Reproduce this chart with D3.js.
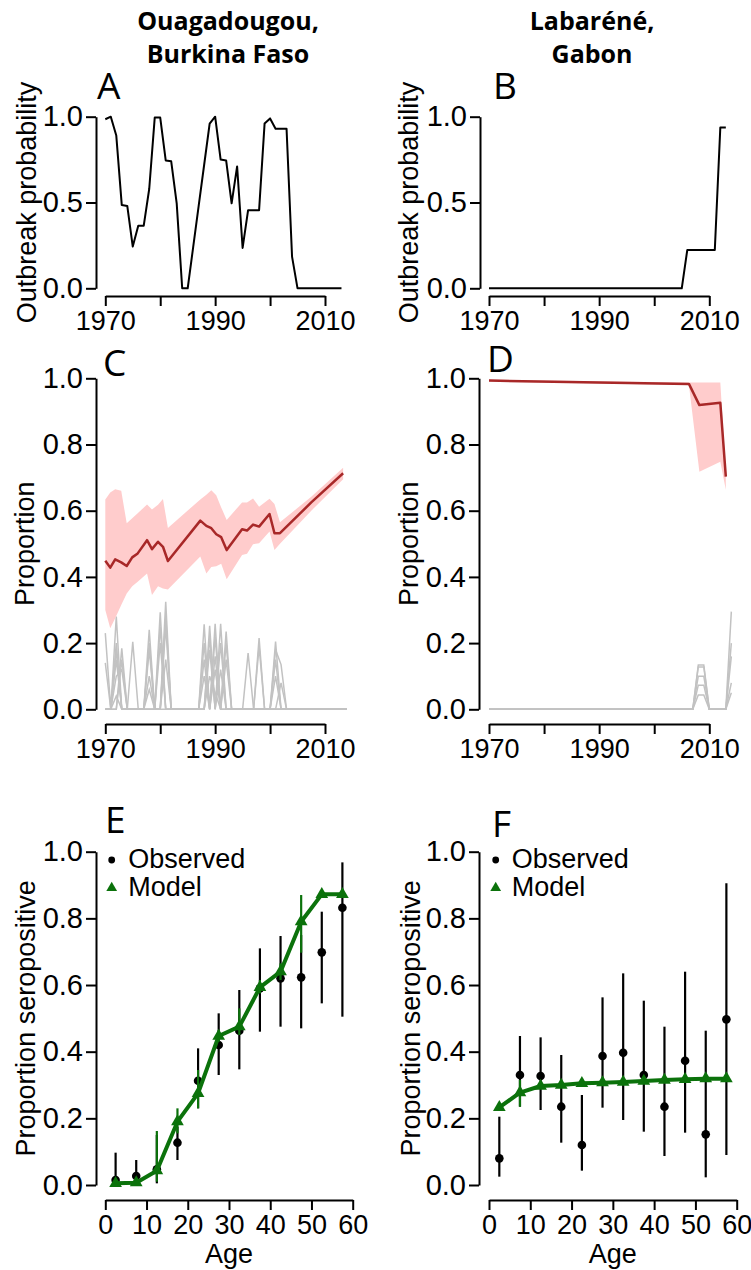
<!DOCTYPE html>
<html>
<head>
<meta charset="utf-8">
<script src="https://cdn.jsdelivr.net/npm/d3@7"></script>
<style>
body { margin: 0; background: #fff; }
text { font-family: "Liberation Sans", Arial, sans-serif; fill: #000; }
.title { font-family: "Open Sans", sans-serif; font-weight: 700; font-size: 25px; }
.letter { font-family: "Open Sans", sans-serif; font-size: 37px; }
</style>
</head>
<body>
<svg id="chart" width="751" height="1270"></svg>
<script>
// ---------- data ----------
const years = d3.range(1970, 2014);      // 1970..2013
const simYears = d3.range(1970, 2015);   // 1970..2014

// A / B : outbreak probability per year
const outbreakOuaga = [0.985, 1.0, 0.89, 0.485, 0.48, 0.243, 0.365, 0.365, 0.58, 0.995,
    0.995, 0.745, 0.74, 0.495, 0.0, 0.0, 0.24, 0.48, 0.72, 0.96,
    1.0, 0.75, 0.745, 0.495, 0.71, 0.235, 0.455, 0.455, 0.455, 0.96,
    0.99, 0.93, 0.93, 0.93, 0.185, 0, 0, 0, 0, 0,
    0, 0, 0, 0];
const outbreakLaba = [0, 0, 0, 0, 0, 0, 0, 0, 0, 0,
    0, 0, 0, 0, 0, 0, 0, 0, 0, 0,
    0, 0, 0, 0, 0, 0, 0, 0, 0, 0,
    0, 0, 0, 0, 0, 0, 0.223, 0.223, 0.223, 0.223,
    0.223, 0.223, 0.937, 0.937];

// C / D : proportion (median and interval)
const propYearsOuaga = [1970, 1970.9, 1971.8, 1972.9, 1973.9, 1974.9, 1975.9, 1977.6, 1978.5, 1979.6,
    1980.5, 1981.4, 1987.3, 1988.4, 1989.3, 1990.2, 1991.1, 1992.1, 1994.9, 1995.8,
    1996.9, 1998.0, 1999.9, 2000.8, 2001.8, 2007.5, 2013.3];
const propMedOuaga = [0.449, 0.428, 0.453, 0.444, 0.433, 0.459, 0.471, 0.511, 0.484, 0.506,
    0.491, 0.448, 0.570, 0.554, 0.547, 0.529, 0.520, 0.481, 0.544, 0.540,
    0.558, 0.552, 0.590, 0.532, 0.532, 0.625, 0.713];
const propHiOuaga = [0.634, 0.655, 0.665, 0.660, 0.562, 0.577, 0.592, 0.619, 0.604, 0.618,
    0.635, 0.548, 0.634, 0.648, 0.662, 0.647, 0.610, 0.572, 0.625, 0.625,
    0.637, 0.612, 0.636, 0.620, 0.565, 0.642, 0.730];
const propLoOuaga = [0.300, 0.245, 0.275, 0.315, 0.350, 0.372, 0.385, 0.410, 0.345, 0.372,
    0.365, 0.362, 0.462, 0.410, 0.430, 0.432, 0.440, 0.393, 0.466, 0.470,
    0.499, 0.502, 0.537, 0.481, 0.500, 0.600, 0.695];

const propYearsLaba = [1970, 2006.3, 2008.2, 2012.0, 2013.0];
const propMedLaba = [0.993, 0.983, 0.919, 0.926, 0.703];
const propHiLaba = [0.996, 0.987, 0.987, 0.987, 0.715];
const propLoLaba = [0.990, 0.980, 0.718, 0.748, 0.663];

// grey simulation runs (non-zero years only)
const simOuaga1 = {1970: 0.23, 1972: 0.28, 1978: 0.24, 1981: 0.325, 1988: 0.257, 1990: 0.258, 1992: 0.235, 1998: 0.215, 2001: 0.205};
const simOuaga2 = {1970: 0.14, 1973: 0.184, 1980: 0.293, 1989: 0.252, 1991: 0.258, 2001: 0.18, 2002: 0.135};
const simOuaga3 = {1972: 0.2, 1975: 0.204, 1978: 0.18, 1981: 0.25, 1988: 0.15, 1990: 0.16, 1996: 0.17, 2001: 0.1};
const simOuaga4 = {1972: 0.1, 1973: 0.12, 1978: 0.1, 1980: 0.2, 1989: 0.18, 1991: 0.2, 1998: 0.19, 2002: 0.08};
const simOuaga5 = {1972: 0.04, 1978: 0.06, 1981: 0.15, 1989: 0.1, 1990: 0.05, 1992: 0.15};
const simOuaga6 = {1972: 0.15, 1981: 0.28, 1989: 0.22, 1991: 0.12, 2001: 0.15};
const simOuaga7 = {1972: 0.18, 1980: 0.25, 1988: 0.2, 1990: 0.22};
const simOuaga8 = {1973: 0.15, 1978: 0.2, 1988: 0.1, 1990: 0.12, 1992: 0.2};

const simLaba1 = {2008: 0.134, 2009: 0.134, 2014: 0.295};
const simLaba2 = {2008: 0.128, 2009: 0.128, 2014: 0.2};
const simLaba3 = {2008: 0.1, 2009: 0.1, 2014: 0.16};
const simLaba4 = {2008: 0.073, 2009: 0.073, 2014: 0.08};
const simLaba5 = {2008: 0.043, 2009: 0.043, 2014: 0.05};

// E / F : seroprevalence by age
const ages = [2.5, 7.5, 12.5, 17.5, 22.5, 27.5, 32.5, 37.5, 42.5, 47.5, 52.5, 57.5];
const obsOuaga = [0.015, 0.027, 0.047, 0.127, 0.313, 0.42, 0.463, 0.59, 0.62, 0.623, 0.698, 0.832];
const obsOuagaLo = [0.0, 0.0, 0.005, 0.075, 0.23, 0.33, 0.347, 0.46, 0.475, 0.47, 0.545, 0.505];
const obsOuagaHi = [0.097, 0.075, 0.15, 0.175, 0.41, 0.515, 0.585, 0.71, 0.747, 0.75, 0.82, 0.968];
const modOuaga = [0.005, 0.007, 0.043, 0.19, 0.275, 0.447, 0.475, 0.593, 0.64, 0.79, 0.872, 0.872];
const modOuagaLo = [0.0, 0.002, 0.01, 0.155, 0.23, 0.43, 0.45, 0.575, 0.615, 0.697, 0.862, 0.862];
const modOuagaHi = [0.01, 0.015, 0.162, 0.23, 0.345, 0.465, 0.53, 0.615, 0.665, 0.87, 0.882, 0.882];

const obsLaba = [0.08, 0.33, 0.327, 0.235, 0.12, 0.387, 0.397, 0.33, 0.235, 0.373, 0.152, 0.497];
const obsLabaLo = [0.025, 0.235, 0.225, 0.127, 0.043, 0.232, 0.195, 0.16, 0.087, 0.157, 0.023, 0.09];
const obsLabaHi = [0.205, 0.447, 0.443, 0.39, 0.27, 0.563, 0.635, 0.553, 0.475, 0.64, 0.463, 0.905];
const modLaba = [0.233, 0.277, 0.297, 0.300, 0.305, 0.307, 0.309, 0.312, 0.315, 0.317, 0.319, 0.319];
const modLabaLo = [0.225, 0.235, 0.29, 0.295, 0.3, 0.302, 0.304, 0.307, 0.31, 0.312, 0.314, 0.314];
const modLabaHi = [0.24, 0.315, 0.305, 0.305, 0.31, 0.312, 0.314, 0.317, 0.32, 0.322, 0.324, 0.324];

const yearTicks = [1970, 1980, 1990, 2000, 2010];
const ageTicks = [0, 10, 20, 30, 40, 50, 60];

// ---------- drawing ----------
const svg = d3.select("#chart");
const RED = "#a82828", PINK = "#ffcccc", GREY = "#c2c2c2", GREEN = "#0b720b";

function axes(x, y, xTicks, xFmt, yTicks, axisX, axisY, xDom) {
    let ya = svg.append("g")
        .attr("transform", "translate(" + axisX + ",0)")
        .call(d3.axisLeft(y).tickValues(yTicks).tickFormat(d3.format(".1f"))
            .tickSize(10).tickSizeOuter(0).tickPadding(3));
    let xs = x.copy().domain(xDom).range(xDom.map(x));
    let xa = svg.append("g")
        .attr("transform", "translate(0," + axisY + ")")
        .call(d3.axisBottom(xs).tickValues(xTicks).tickFormat(xFmt)
            .tickSize(10).tickSizeOuter(0).tickPadding(5));
    [ya, xa].forEach(function(a) {
        a.attr("font-family", null).attr("font-size", null);
        a.selectAll("path, line").attr("stroke", "#000").attr("stroke-width", 2);
        a.selectAll("text").attr("fill", "#000");
    });
    ya.selectAll("text").style("font-size", "29px");
    xa.selectAll("text").style("font-size", "27px");
}

function ylab(txt, x, y) {
    svg.append("text")
        .attr("transform", "translate(" + x + "," + y + ") rotate(-90)")
        .attr("text-anchor", "middle")
        .style("font-size", "27px")
        .text(txt);
}

function letter(txt, x, y) {
    svg.append("text").attr("class", "letter").attr("x", x).attr("y", y).text(txt);
}

let yearFmt = function(d) { return d % 20 === 10 ? d : ""; };

// titles
[["Ouagadougou,", "Burkina Faso", 228], ["Labaréné,", "Gabon", 592]].forEach(function(t) {
    svg.append("text").attr("class", "title").attr("x", t[2]).attr("y", 30)
        .attr("text-anchor", "middle").text(t[0]);
    svg.append("text").attr("class", "title").attr("x", t[2]).attr("y", 63)
        .attr("text-anchor", "middle").text(t[1]);
});

// panels A and B
[[outbreakOuaga, 105.3, 325, 96, 36, "A", 97],
 [outbreakLaba, 489, 709.3, 480, 418, "B", 493]].forEach(function(p) {
    let x = d3.scaleLinear().domain([1970, 2010]).range([p[1], p[2]]);
    let y = d3.scaleLinear().domain([0, 1]).range([288.3, 116.7]);
    axes(x, y, yearTicks, yearFmt, [0, 0.5, 1], p[3], 296, [1970, 2010]);
    svg.append("path")
        .datum(years)
        .attr("fill", "none").attr("stroke", "#000").attr("stroke-width", 2)
        .attr("stroke-linejoin", "round")
        .attr("d", d3.line().x(function(d) { return x(d); })
            .y(function(d, i) { return y(p[0][i]); }));
    ylab("Outbreak probability", p[4], y(0.5));
    letter(p[5], p[6], 99);
});

// panels C and D
[[propYearsOuaga, propMedOuaga, propLoOuaga, propHiOuaga,
  [simOuaga1, simOuaga2, simOuaga3, simOuaga4, simOuaga5, simOuaga6, simOuaga7, simOuaga8],
  105.3, 325, 96, 34, "C", 103, 376],
 [propYearsLaba, propMedLaba, propLoLaba, propHiLaba,
  [simLaba1, simLaba2, simLaba3, simLaba4, simLaba5],
  489, 709.3, 479, 418, "D", 487, 372]].forEach(function(p) {
    let x = d3.scaleLinear().domain([1970, 2010]).range([p[5], p[6]]);
    let y = d3.scaleLinear().domain([0, 1]).range([709.3, 378.3]);
    axes(x, y, yearTicks, yearFmt, [0, 0.2, 0.4, 0.6, 0.8, 1], p[7], 724, [1970, 2010]);

    let simLine = d3.line().x(function(d) { return x(d); });
    p[4].forEach(function(s) {
        svg.append("path")
            .datum(simYears)
            .attr("fill", "none").attr("stroke", GREY).attr("stroke-width", 1.5)
            .attr("d", simLine.y(function(d) { return y(s[d] || 0); }));
    });

    let idx = d3.range(p[0].length);
    svg.append("path")
        .datum(idx)
        .attr("fill", PINK)
        .attr("d", d3.area().x(function(i) { return x(p[0][i]); })
            .y0(function(i) { return y(p[2][i]); })
            .y1(function(i) { return y(p[3][i]); }));
    svg.append("path")
        .datum(idx)
        .attr("fill", "none").attr("stroke", RED).attr("stroke-width", 2.5)
        .attr("stroke-linejoin", "round")
        .attr("d", d3.line().x(function(i) { return x(p[0][i]); })
            .y(function(i) { return y(p[1][i]); }));
    ylab("Proportion", p[8], y(0.5));
    letter(p[9], p[10], p[11]);
});

// panels E and F
[[obsOuaga, obsOuagaLo, obsOuagaHi, modOuaga, modOuagaLo, modOuagaHi,
  105.3, 352.7, 96, 35, "E", 105, 833, 111.7, 128.3],
 [obsLaba, obsLabaLo, obsLabaHi, modLaba, modLabaLo, modLabaHi,
  489, 736.7, 479, 420, "F", 492, 837, 495.7, 511.7]].forEach(function(p) {
    let x = d3.scaleLinear().domain([0, 60]).range([p[6], p[7]]);
    let y = d3.scaleLinear().domain([0, 1]).range([1185, 851.7]);
    axes(x, y, ageTicks, d3.format("d"), [0, 0.2, 0.4, 0.6, 0.8, 1], p[8], 1200, [0, 60]);

    // observed
    svg.selectAll(null).data(ages).enter().append("line")
        .attr("x1", function(d) { return x(d); }).attr("x2", function(d) { return x(d); })
        .attr("y1", function(d, i) { return y(p[1][i]); })
        .attr("y2", function(d, i) { return y(p[2][i]); })
        .attr("stroke", "#000").attr("stroke-width", 2.2);
    svg.selectAll(null).data(ages).enter().append("circle")
        .attr("cx", function(d) { return x(d); })
        .attr("cy", function(d, i) { return y(p[0][i]); })
        .attr("r", 4.3).attr("fill", "#000");

    // model
    svg.selectAll(null).data(ages).enter().append("line")
        .attr("x1", function(d) { return x(d); }).attr("x2", function(d) { return x(d); })
        .attr("y1", function(d, i) { return y(p[4][i]); })
        .attr("y2", function(d, i) { return y(p[5][i]); })
        .attr("stroke", GREEN).attr("stroke-width", 2.2);
    svg.append("path")
        .datum(ages)
        .attr("fill", "none").attr("stroke", GREEN).attr("stroke-width", 4)
        .attr("stroke-linejoin", "round")
        .attr("d", d3.line().x(function(d) { return x(d); })
            .y(function(d, i) { return y(p[3][i]); }));
    svg.selectAll(null).data(ages).enter().append("path")
        .attr("transform", function(d, i) { return "translate(" + x(d) + "," + y(p[3][i]) + ")"; })
        .attr("d", d3.symbol(d3.symbolTriangle, 70))
        .attr("fill", GREEN);

    // legend
    svg.append("circle").attr("cx", p[13]).attr("cy", 860).attr("r", 3.4).attr("fill", "#000");
    svg.append("path").attr("transform", "translate(" + p[13] + ",888)")
        .attr("d", d3.symbol(d3.symbolTriangle, 50)).attr("fill", GREEN);
    svg.append("text").attr("x", p[14]).attr("y", 868).style("font-size", "27px").text("Observed");
    svg.append("text").attr("x", p[14]).attr("y", 896).style("font-size", "27px").text("Model");

    svg.append("text")
        .attr("x", (p[6] + p[7]) / 2).attr("y", 1263)
        .attr("text-anchor", "middle").style("font-size", "27px").text("Age");
    ylab("Proportion seropositive", p[9], y(0.5));
    letter(p[10], p[11], p[12]);
});
</script>
</body>
</html>
